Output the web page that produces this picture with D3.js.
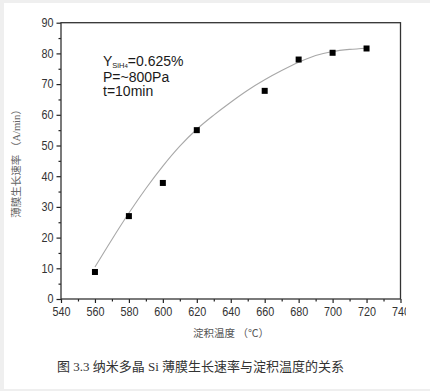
<!DOCTYPE html>
<html>
<head>
<meta charset="utf-8">
<script src="https://cdn.jsdelivr.net/npm/d3@7/dist/d3.min.js"></script>
<style>
  html, body { margin: 0; padding: 0; background: #efefef; }
  svg { display: block; }
</style>
</head>
<body>
<svg id="chart" width="430" height="391"></svg>
<script>
// ---- data ----
const temperatures = [560, 580, 600, 620, 660, 680, 700, 720];
const growthRates = [8.8, 27.0, 37.8, 55.0, 67.8, 78.0, 80.2, 81.6];
const fitTemps = [560, 570, 580, 590, 600, 610, 620, 630, 640, 650, 660, 670, 680, 690, 700, 710, 720];
const fitRates = [10.4, 19.4, 28.0, 36.0, 43.3, 49.8, 55.3, 59.9, 64.1, 68.0, 71.4, 74.4, 77.1, 79.3, 80.6, 81.3, 81.7];
const xTicks = [540, 560, 580, 600, 620, 640, 660, 680, 700, 720, 740];
const xMinor = [550, 570, 590, 610, 630, 650, 670, 690, 710, 730];
const yTicks = [0, 10, 20, 30, 40, 50, 60, 70, 80, 90];
const yMinor = [5, 15, 25, 35, 45, 55, 65, 75, 85];
const xTitle = "淀积温度 （℃）";
const yTitle = "薄膜生长速率 （A/min）";
const caption = "图 3.3  纳米多晶 Si 薄膜生长速率与淀积温度的关系";

const svg = d3.select("#chart");
svg.append("rect").attr("x", 4).attr("y", 3).attr("width", 426).attr("height", 386).attr("fill", "#ffffff");

const L = 61, R = 400.5, T = 22.7, B = 299;
const x = d3.scaleLinear().domain([540, 740]).range([L, R]);
const y = d3.scaleLinear().domain([0, 90]).range([B, T]);

const sx = 0.9;
const numFont = "'Liberation Sans', Arial, sans-serif";
const cjkFont = "'Liberation Serif', 'Noto Sans CJK SC', serif";

// clip for x labels (right edge cut in reference)
svg.append("clipPath").attr("id", "xclip").append("rect")
  .attr("x", 0).attr("y", 0).attr("width", 406).attr("height", 391);

// bottom axis
const xAxis = svg.append("g").attr("transform", `translate(0,${B})`)
  .attr("clip-path", "url(#xclip)")
  .call(d3.axisBottom(x).tickValues(xTicks).tickSize(4).tickPadding(3).tickFormat(d3.format("d")));
xAxis.select(".domain").remove();
xAxis.selectAll(".tick line").attr("stroke", "#222").attr("stroke-width", 1.2);
xAxis.selectAll(".tick text")
  .attr("font-family", numFont).attr("font-size", 12).attr("fill", "#333")
  .attr("transform", `scale(${sx},1)`)
  .attr("y", 8.5).attr("dy", "0.71em");
const xMin = svg.append("g").attr("transform", `translate(0,${B})`)
  .call(d3.axisBottom(x).tickValues(xMinor).tickSize(2.5).tickFormat(""));
xMin.select(".domain").remove();
xMin.selectAll(".tick line").attr("stroke", "#222").attr("stroke-width", 1.2);

// left axis
const yAxis = svg.append("g").attr("transform", `translate(${L},0)`)
  .call(d3.axisLeft(y).tickValues(yTicks).tickSize(4.5).tickPadding(3).tickFormat(d3.format("d")));
yAxis.select(".domain").remove();
yAxis.selectAll(".tick line").attr("stroke", "#222").attr("stroke-width", 1.2);
yAxis.selectAll(".tick text")
  .attr("font-family", numFont).attr("font-size", 12).attr("fill", "#333")
  .attr("transform", `scale(${sx},1)`)
  .attr("x", -7.5 / sx);
const yMin = svg.append("g").attr("transform", `translate(${L},0)`)
  .call(d3.axisLeft(y).tickValues(yMinor).tickSize(2.5).tickFormat(""));
yMin.select(".domain").remove();
yMin.selectAll(".tick line").attr("stroke", "#222").attr("stroke-width", 1.2);

// frame
svg.append("rect").attr("x", L).attr("y", T).attr("width", R - L).attr("height", B - T)
  .attr("fill", "none").attr("stroke", "#333").attr("stroke-width", 1.3);

// fitted curve
const fitData = fitTemps.map((t, i) => [t, fitRates[i]]);
svg.append("path").datum(fitData)
  .attr("d", d3.line().x(d => x(d[0])).y(d => y(d[1])).curve(d3.curveMonotoneX))
  .attr("fill", "none").attr("stroke", "#a8a8a8").attr("stroke-width", 1.1);

// markers
const ms = 6;
svg.append("g").selectAll("rect").data(temperatures.map((t, i) => [t, growthRates[i]]))
  .join("rect")
  .attr("x", d => x(d[0]) - ms / 2).attr("y", d => y(d[1]) - ms / 2)
  .attr("width", ms).attr("height", ms).attr("fill", "#000");

// annotation
const ann = svg.append("g").attr("font-family", numFont).attr("fill", "#1a1a1a");
const t1 = ann.append("text").attr("x", 103).attr("y", 66).attr("font-size", 14);
t1.append("tspan").text("Y");
t1.append("tspan").attr("font-size", 7.5).attr("dy", 1.5).text("SiH");
t1.append("tspan").attr("font-size", 6).attr("dy", 0.5).text("4");
t1.append("tspan").attr("font-size", 14).attr("dy", -2).text("=0.625%");
ann.append("text").attr("x", 103).attr("y", 81.5).attr("font-size", 14).text("P=~800Pa");
ann.append("text").attr("x", 103).attr("y", 96).attr("font-size", 14).text("t=10min");

// axis titles
svg.append("text").attr("x", 231).attr("y", 336.5).attr("text-anchor", "middle")
  .attr("font-family", cjkFont).attr("font-size", 10.5).attr("fill", "#555").text(xTitle);
svg.append("text").attr("transform", "translate(20,161) rotate(-90)").attr("text-anchor", "middle")
  .attr("font-family", cjkFont).attr("font-size", 10.5).attr("fill", "#666").text(yTitle);

// caption
svg.append("text").attr("x", 57).attr("y", 370.5)
  .attr("font-family", cjkFont).attr("font-size", 13).attr("fill", "#333").text(caption);
</script>
</body>
</html>
